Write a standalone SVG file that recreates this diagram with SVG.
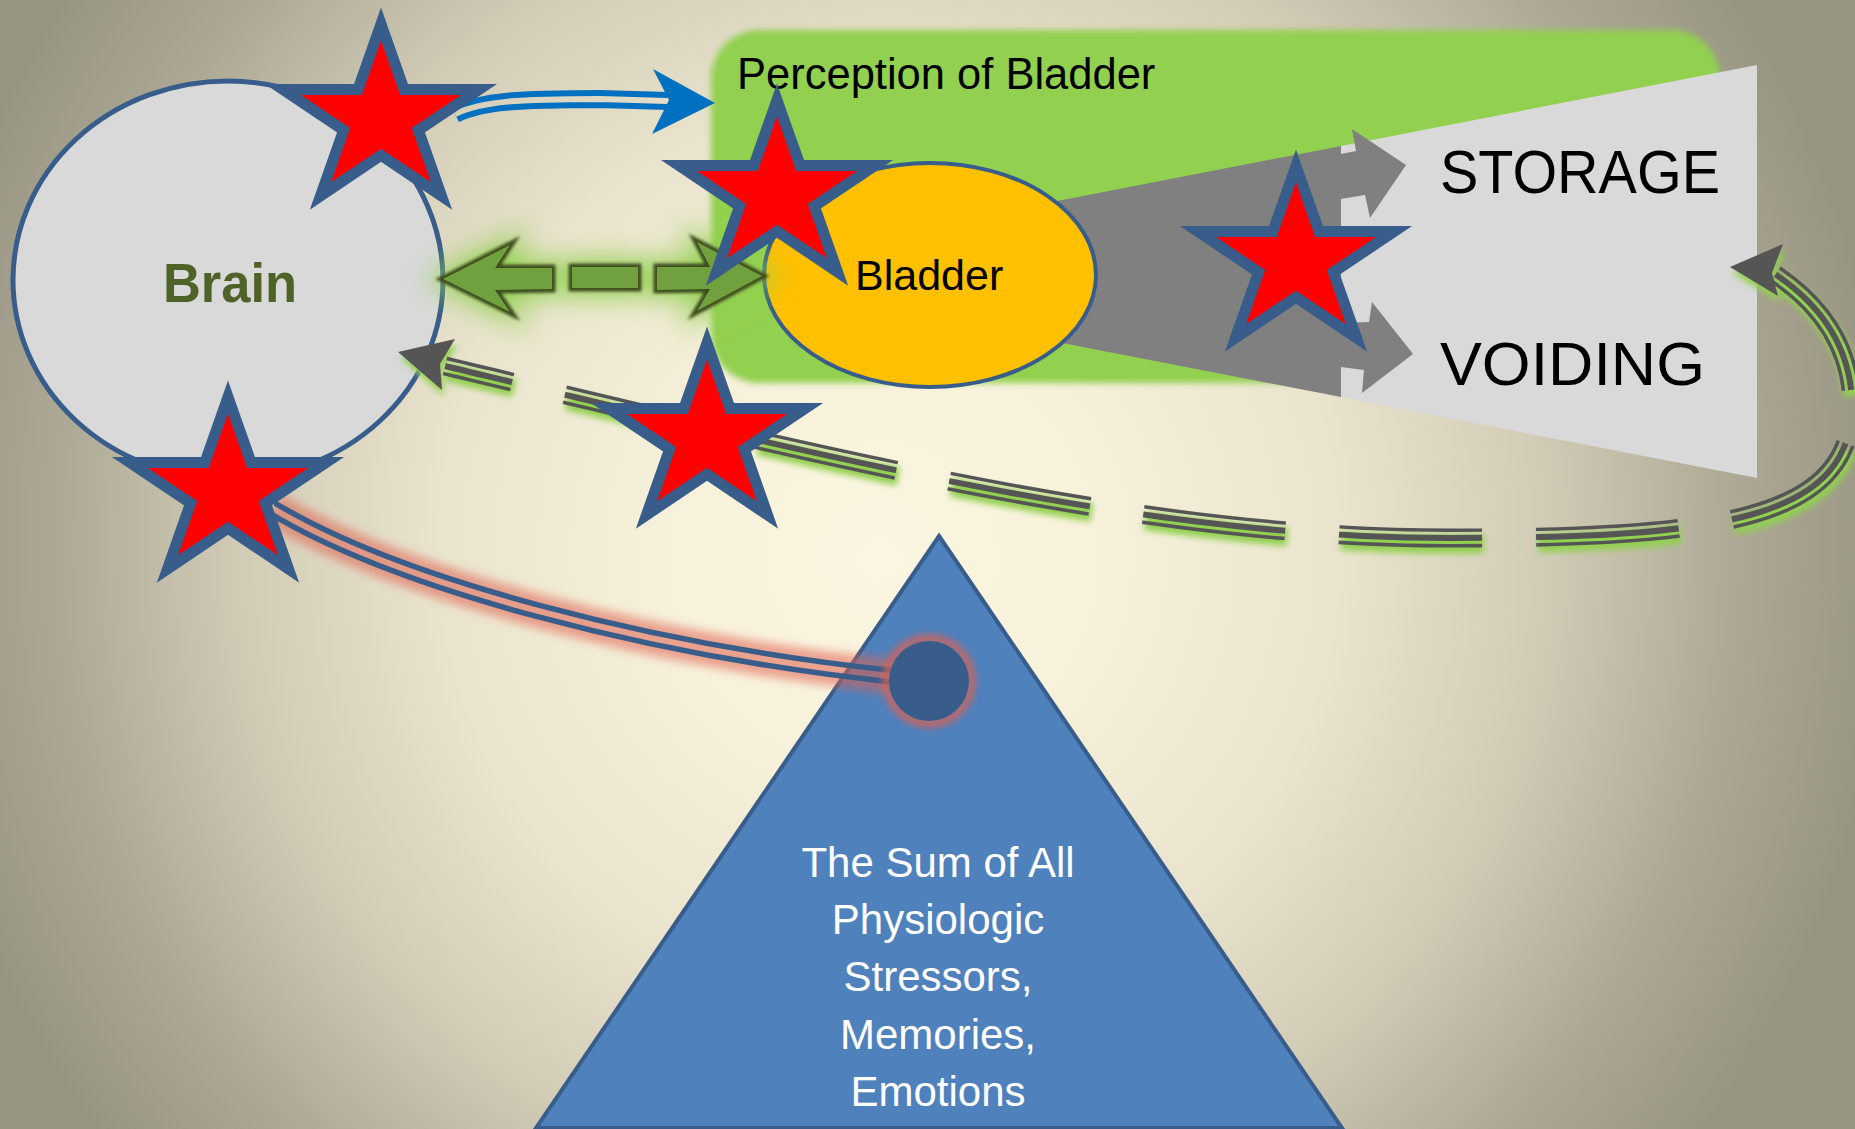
<svg xmlns="http://www.w3.org/2000/svg" width="1855" height="1129" viewBox="0 0 1855 1129">
<style>
  text { font-family: "Liberation Sans", Arial, sans-serif; }
  .star { fill: #FF0000; stroke: #385D8A; stroke-width: 11; stroke-linejoin: miter; stroke-miterlimit: 10; }
  .lbl { fill: #000000; }
  .tri-txt { fill: #FFFFFF; font-size: 42px; text-anchor: middle; }
  .garrow { fill: #71A03E; }
  .garrow-edge { fill: none; stroke: #3D4D1E; stroke-width: 7; stroke-linejoin: miter; }
</style>
<defs>
  <radialGradient id="bg" gradientUnits="userSpaceOnUse" cx="900" cy="540" r="1000" fx="880" fy="560">
    <stop offset="0" stop-color="#FBF6E1"/>
    <stop offset="0.2" stop-color="#F8F2DC"/>
    <stop offset="0.45" stop-color="#EAE4CE"/>
    <stop offset="0.65" stop-color="#D2CCB7"/>
    <stop offset="0.85" stop-color="#ABA794"/>
    <stop offset="1" stop-color="#989482"/>
  </radialGradient>
  <filter id="fSoft" filterUnits="userSpaceOnUse" x="0" y="0" width="1855" height="1129"><feGaussianBlur stdDeviation="3"/></filter>
  <filter id="fGlow" filterUnits="userSpaceOnUse" x="0" y="0" width="1855" height="1129"><feGaussianBlur stdDeviation="14"/></filter>
  <filter id="fEdge" filterUnits="userSpaceOnUse" x="0" y="0" width="1855" height="1129"><feGaussianBlur stdDeviation="1.8"/></filter>
  <filter id="fShadow" filterUnits="userSpaceOnUse" x="0" y="0" width="1855" height="1129"><feGaussianBlur stdDeviation="3"/></filter>
  <filter id="fRed" filterUnits="userSpaceOnUse" x="0" y="0" width="1855" height="1129"><feGaussianBlur stdDeviation="5"/></filter>
  <path id="star" d="M0,-95 L23.1,-29.4 L98,-29.4 L37.4,11.2 L60.5,76.9 L0,36.3 L-60.5,76.9 L-37.4,11.2 L-98,-29.4 L-23.1,-29.4 Z"/>
  <path id="pBlue" d="M455,114 C482,101 520,99 600,99 L668,101"/>
  <path id="pRed" d="M272,508 C400,585 650,650 890,676"/>
  <path id="pDash" d="M445,366 C845,462 1150,538 1450,538 C1720,538 1855,520 1852,400 C1849,340 1815,300 1772,272"/>
  <path id="gLeft" d="M443,279 L510,245 L495,268 L552,268 L552,289 L495,290 L510,312 Z"/>
  <path id="gMid" d="M572,267 L638,267 L638,288 L572,288 Z"/>
  <path id="gRight" d="M657,267 L710,267 L697,242 L762,276 L697,311 L710,289 L657,290 Z"/>
  <mask id="mBlue" maskUnits="userSpaceOnUse" x="0" y="0" width="1855" height="1129">
    <rect width="1855" height="1129" fill="white"/>
    <use href="#pBlue" fill="none" stroke="black" stroke-width="6"/>
  </mask>
  <mask id="mRed" maskUnits="userSpaceOnUse" x="0" y="0" width="1855" height="1129">
    <rect width="1855" height="1129" fill="white"/>
    <use href="#pRed" fill="none" stroke="black" stroke-width="6"/>
  </mask>
  <mask id="mDash" maskUnits="userSpaceOnUse" x="0" y="0" width="1855" height="1129">
    <rect width="1855" height="1129" fill="white"/>
    <use href="#pDash" fill="none" stroke="black" stroke-width="12"/>
    <use href="#pDash" fill="none" stroke="white" stroke-width="6"/>
  </mask>
</defs>

<rect id="background" width="1855" height="1129" fill="url(#bg)"/>

<g id="perception">
  <rect x="711" y="30" width="1009" height="353" rx="48" ry="48" fill="#92D050" filter="url(#fSoft)"/>
  <text class="lbl" x="737" y="89" font-size="43.5">Perception of Bladder</text>
</g>

<g id="outcomes">
  <polygon points="1000,212 1341,146 1341,397 1000,331" fill="#808080"/>
  <polygon points="1341,146 1757,65 1757,478 1341,397" fill="#D9D9D9"/>
  <polygon points="1341,154 1356,151 1352,129 1406,165 1370,218 1365,195 1341,199" fill="#808080"/>
  <polygon points="1341,323 1369,322 1372,302 1413,354 1362,393 1364,370 1341,367" fill="#808080"/>
  <text class="lbl" x="1440" y="193" font-size="61" textLength="280" lengthAdjust="spacingAndGlyphs">STORAGE</text>
  <text class="lbl" x="1440" y="385" font-size="61" textLength="265" lengthAdjust="spacingAndGlyphs">VOIDING</text>
</g>

<g id="brain">
  <ellipse cx="228" cy="280" rx="215" ry="199" fill="#D9D9D9" stroke="#385D8A" stroke-width="5"/>
  <text x="230" y="302" text-anchor="middle" font-weight="bold" font-size="56" fill="#4F6228" textLength="134" lengthAdjust="spacingAndGlyphs">Brain</text>
</g>

<g id="bladder">
  <ellipse cx="930" cy="275" rx="166" ry="112" fill="#FFC000" stroke="#385D8A" stroke-width="4"/>
  <text class="lbl" x="855" y="290" font-size="43">Bladder</text>
</g>

<g id="stressors">
  <polygon points="939,536 1342,1128 536,1128" fill="#4F81BD" stroke="#385D8A" stroke-width="4" stroke-linejoin="miter"/>
  <text class="tri-txt" x="938" y="877">The Sum of All</text>
  <text class="tri-txt" x="938" y="934">Physiologic</text>
  <text class="tri-txt" x="938" y="991">Stressors,</text>
  <text class="tri-txt" x="938" y="1049">Memories,</text>
  <text class="tri-txt" x="938" y="1106">Emotions</text>
</g>

<g id="connectors">
  <g id="conn-perception">
    <use href="#pBlue" fill="none" stroke="#0070C0" stroke-width="18" mask="url(#mBlue)"/>
    <polygon points="715,103 653,69 669,100 652,134" fill="#0070C0"/>
  </g>
  <g id="conn-brain-bladder">
    <g filter="url(#fGlow)" fill="#92D050" stroke="#92D050" stroke-width="16">
      <use href="#gLeft"/>
      <use href="#gMid"/>
      <use href="#gRight"/>
    </g>
    <g class="garrow-edge" filter="url(#fEdge)">
      <use href="#gLeft"/>
      <use href="#gMid"/>
      <use href="#gRight"/>
    </g>
    <g class="garrow">
      <use href="#gLeft"/>
      <use href="#gMid"/>
      <use href="#gRight"/>
    </g>
  </g>
  <g id="conn-feedback">
    <g transform="translate(2,6)" filter="url(#fShadow)">
      <use href="#pDash" fill="none" stroke="#92D050" stroke-width="19" stroke-dasharray="143 54" stroke-dashoffset="74"/>
      <polygon points="398,352 455,339 440,364 442,390" fill="#92D050"/>
      <polygon points="1730,267 1783,244 1772,273 1778,296" fill="#92D050"/>
    </g>
    <use href="#pDash" fill="none" stroke="#555555" stroke-width="19" stroke-dasharray="143 54" stroke-dashoffset="74" mask="url(#mDash)"/>
    <polygon points="398,352 455,339 440,364 442,390" fill="#555555"/>
    <polygon points="1730,267 1783,244 1772,273 1778,296" fill="#555555"/>
  </g>
  <g id="conn-stressors">
    <use href="#pRed" fill="none" stroke="#E0604F" stroke-width="34" opacity="0.55" filter="url(#fRed)"/>
    <use href="#pRed" fill="none" stroke="#385D8A" stroke-width="17" mask="url(#mRed)"/>
    <circle cx="929" cy="681" r="42" fill="none" stroke="#E0604F" stroke-width="10" opacity="0.7" filter="url(#fSoft)"/>
    <circle cx="929" cy="681" r="40" fill="#385D8A"/>
  </g>
</g>

<g id="star-1"><use href="#star" class="star" x="381" y="119"/></g>
<g id="star-2"><use href="#star" class="star" x="777" y="195"/></g>
<g id="star-3"><use href="#star" class="star" x="707" y="438"/></g>
<g id="star-4"><use href="#star" class="star" x="228" y="492"/></g>
<g id="star-5"><use href="#star" class="star" x="1296" y="261"/></g>
</svg>
